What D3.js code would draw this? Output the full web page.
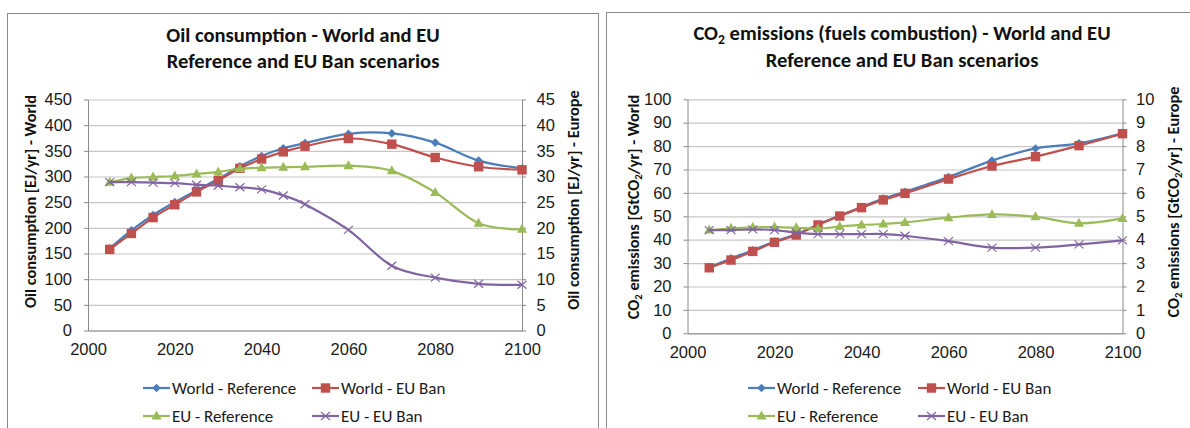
<!DOCTYPE html>
<html>
<head>
<meta charset="utf-8">
<script src="https://cdn.jsdelivr.net/npm/d3@7"></script>
<style>
  html, body { margin: 0; padding: 0; background: #fff; }
  svg { display: block; font-family: Carlito, Lato, "Liberation Sans", sans-serif; }
</style>
</head>
<body>
<svg id="chart" width="1190" height="428"></svg>
<script>
// ---------- data ----------
const years = [2005, 2010, 2015, 2020, 2025, 2030, 2035, 2040, 2045, 2050, 2060, 2070, 2080, 2090, 2100];

const oilWorldRef = [160, 195, 225, 250, 273, 295, 320, 340, 355, 365, 383, 384, 366, 331, 316];
const oilWorldBan = [158, 189, 220, 245, 270, 292, 316, 334, 348, 359, 374, 363, 337, 319, 313];
const oilEURef    = [28.9, 29.7, 29.9, 30.1, 30.5, 30.9, 31.5, 31.7, 31.8, 31.9, 32.1, 31.1, 26.9, 20.9, 19.7];
const oilEUBan    = [28.9, 28.9, 28.8, 28.7, 28.4, 28.2, 27.9, 27.5, 26.3, 24.6, 19.6, 12.6, 10.3, 9.1, 8.9];

const co2WorldRef = [28.2, 32.0, 35.5, 39.2, 42.3, 46.5, 50.3, 54.0, 57.6, 60.5, 66.8, 73.8, 79.0, 81.2, 85.5];
const co2WorldBan = [28.0, 31.3, 35.0, 38.9, 42.0, 46.3, 50.1, 53.7, 57.0, 59.8, 65.9, 71.5, 75.5, 80.2, 85.3];
const co2EURef    = [4.41, 4.49, 4.53, 4.54, 4.51, 4.47, 4.56, 4.63, 4.67, 4.74, 4.94, 5.08, 4.98, 4.70, 4.91];
const co2EUBan    = [4.41, 4.41, 4.44, 4.41, 4.30, 4.24, 4.24, 4.24, 4.24, 4.17, 3.94, 3.66, 3.66, 3.80, 3.97];

const xTicks = [2000, 2020, 2040, 2060, 2080, 2100];
const oilLeftTicks  = [0, 50, 100, 150, 200, 250, 300, 350, 400, 450];
const oilRightTicks = [0, 5, 10, 15, 20, 25, 30, 35, 40, 45];
const co2LeftTicks  = [0, 10, 20, 30, 40, 50, 60, 70, 80, 90, 100];
const co2RightTicks = [0, 1, 2, 3, 4, 5, 6, 7, 8, 9, 10];

const seriesNames = ["World - Reference", "World - EU Ban", "EU - Reference", "EU - EU Ban"];
const seriesColors = ["#4a7ebb", "#c0504d", "#9bbb59", "#8064a2"];
const seriesMarkers = ["diamond", "square", "triangle", "x"];

// ---------- drawing ----------
const TICK_FS = 16.5, LEGEND_FS = 17, TITLE_FS = 20.6, AXT_FS = 16.3;
const svg = d3.select("#chart");
svg.append("rect").attr("width", 1190).attr("height", 428).attr("fill", "#fff");

// Text with subscript support: parts = [[text, isSub], ...]
function richText(sel, parts, size) {
  let wasSub = false;
  parts.forEach(([t, sub]) => {
    const ts = sel.append("tspan").text(t);
    if (sub) { ts.attr("font-size", size * 0.66).attr("dy", size * 0.28); wasSub = true; }
    else if (wasSub) { ts.attr("dy", -size * 0.28); wasSub = false; }
  });
}

function drawMarker(g, type, x, y, color) {
  if (type === "diamond") {
    g.append("path").attr("d", `M${x},${y - 4.3}L${x + 4.3},${y}L${x},${y + 4.3}L${x - 4.3},${y}Z`).attr("fill", color);
  } else if (type === "square") {
    g.append("rect").attr("x", x - 4.7).attr("y", y - 4.7).attr("width", 9.4).attr("height", 9.4)
      .attr("fill", color);
  } else if (type === "triangle") {
    g.append("path").attr("d", `M${x},${y - 5.5}L${x + 5},${y + 3.5}L${x - 5},${y + 3.5}Z`).attr("fill", color);
  } else if (type === "x") {
    g.append("path").attr("d", `M${x - 4.5},${y - 4}L${x + 4.5},${y + 4}M${x - 4.5},${y + 4}L${x + 4.5},${y - 4}`)
      .attr("stroke", color).attr("stroke-width", 1.2).attr("fill", "none");
  }
}

function styleAxis(a) {
  a.select(".domain").attr("stroke", "#8a8a8a");
  a.selectAll("line").attr("stroke", "#8a8a8a");
  a.selectAll("text").attr("font-size", TICK_FS).attr("fill", "#1a1a1a").attr("font-family", null);
}

function drawChart(cfg) {
  const g = svg.append("g");
  // frame
  g.append("rect").attr("x", cfg.box[0]).attr("y", cfg.box[1]).attr("width", cfg.box[2]).attr("height", cfg.box[3])
    .attr("fill", "#fff").attr("stroke", "#8a8a8a").attr("stroke-width", 1);

  const x = d3.scaleLinear().domain([2000, 2100]).range([cfg.left, cfg.right]);
  const yL = d3.scaleLinear().domain(cfg.yLDomain).range([cfg.bottom, cfg.top]);
  const yR = d3.scaleLinear().domain(cfg.yRDomain).range([cfg.bottom, cfg.top]);

  // gridlines
  g.append("g").attr("transform", `translate(${cfg.left},0)`)
    .call(d3.axisLeft(yL).tickValues(cfg.yLTicks).tickSize(-(cfg.right - cfg.left)).tickFormat(""))
    .call(a => a.select(".domain").remove())
    .call(a => a.selectAll("line").attr("stroke", "#c6c6c6").attr("stroke-width", 1.2));

  // left axis
  g.append("g").attr("transform", `translate(${cfg.left},0)`)
    .call(d3.axisLeft(yL).tickValues(cfg.yLTicks).tickSize(4).tickPadding(12).tickSizeOuter(0))
    .call(styleAxis);
  // right axis
  g.append("g").attr("transform", `translate(${cfg.right},0)`)
    .call(d3.axisRight(yR).tickValues(cfg.yRTicks).tickSize(4).tickPadding(cfg.rPad).tickSizeOuter(0))
    .call(styleAxis);
  // bottom axis
  g.append("g").attr("transform", `translate(0,${cfg.bottom})`)
    .call(d3.axisBottom(x).tickValues(xTicks).tickSize(0).tickPadding(13).tickFormat(d3.format("d")).tickSizeOuter(0))
    .call(styleAxis);

  // series
  const all = [
    { vals: cfg.series[0], y: yL },
    { vals: cfg.series[1], y: yL },
    { vals: cfg.series[2], y: yR },
    { vals: cfg.series[3], y: yR }
  ];
  all.forEach((s, i) => {
    const pts = years.map((yr, j) => [x(yr), s.y(s.vals[j])]);
    const line = d3.line().curve(d3.curveCardinal.tension(0));
    g.append("path").attr("d", line(pts)).attr("fill", "none")
      .attr("stroke", seriesColors[i]).attr("stroke-width", 2.2);
    const mg = g.append("g");
    pts.forEach(p => drawMarker(mg, seriesMarkers[i], p[0], p[1], seriesColors[i]));
  });

  // title
  cfg.title.forEach((parts, i) => {
    const t = g.append("text").attr("x", cfg.titleX).attr("y", cfg.titleY[i])
      .attr("text-anchor", "middle").attr("dominant-baseline", "central")
      .attr("font-size", TITLE_FS).attr("font-weight", "bold").attr("fill", "#111");
    richText(t, parts, TITLE_FS);
  });

  // axis titles
  [[cfg.yLTitle, cfg.yLTitlePos], [cfg.yRTitle, cfg.yRTitlePos]].forEach(([parts, pos]) => {
    const t = g.append("text")
      .attr("transform", `translate(${pos[0]},${pos[1]}) rotate(-90)`)
      .attr("text-anchor", "middle").attr("dominant-baseline", "central")
      .attr("font-size", AXT_FS).attr("font-weight", "bold").attr("fill", "#111");
    richText(t, parts, AXT_FS);
  });

  // legend
  seriesNames.forEach((name, i) => {
    const lx = cfg.legendX[i % 2];
    const ly = cfg.legendY[Math.floor(i / 2)];
    g.append("line").attr("x1", lx).attr("x2", lx + 27).attr("y1", ly).attr("y2", ly)
      .attr("stroke", seriesColors[i]).attr("stroke-width", 2.2);
    drawMarker(g, seriesMarkers[i], lx + 13.5, ly, seriesColors[i]);
    g.append("text").attr("x", lx + 29).attr("y", ly).attr("dominant-baseline", "central")
      .attr("font-size", LEGEND_FS).attr("fill", "#1a1a1a").text(name);
  });
}

drawChart({
  box: [7.5, 13.5, 591, 430],
  left: 88, right: 522, top: 99.5, bottom: 330.5, rPad: 10.5,
  yLDomain: [0, 450], yRDomain: [0, 45],
  yLTicks: oilLeftTicks, yRTicks: oilRightTicks,
  series: [oilWorldRef, oilWorldBan, oilEURef, oilEUBan],
  title: [[["Oil consumption - World and EU", false]], [["Reference and EU Ban scenarios", false]]],
  titleX: 303, titleY: [35, 61],
  yLTitle: [["Oil consumption [EJ/yr] - World", false]], yLTitlePos: [29.5, 201.5],
  yRTitle: [["Oil consumption [EJ/yr] - Europe", false]], yRTitlePos: [573, 200],
  legendX: [143, 312], legendY: [388, 416]
});

drawChart({
  box: [606.5, 12.5, 600, 430],
  left: 687.5, right: 1122.5, top: 99.3, bottom: 333.3, rPad: 9.5,
  yLDomain: [0, 100], yRDomain: [0, 10],
  yLTicks: co2LeftTicks, yRTicks: co2RightTicks,
  series: [co2WorldRef, co2WorldBan, co2EURef, co2EUBan],
  title: [[["CO", false], ["2", true], [" emissions (fuels combustion) - World and EU", false]],
          [["Reference and EU Ban scenarios", false]]],
  titleX: 902, titleY: [33, 60],
  yLTitle: [["CO", false], ["2", true], [" emissions [GtCO", false], ["2", true], ["/yr] - World", false]],
  yLTitlePos: [633, 207],
  yRTitle: [["CO", false], ["2", true], [" emissions [GtCO", false], ["2", true], ["/yr] - Europe", false]],
  yRTitlePos: [1173, 202],
  legendX: [748, 918], legendY: [388, 416]
});
</script>
</body>
</html>
